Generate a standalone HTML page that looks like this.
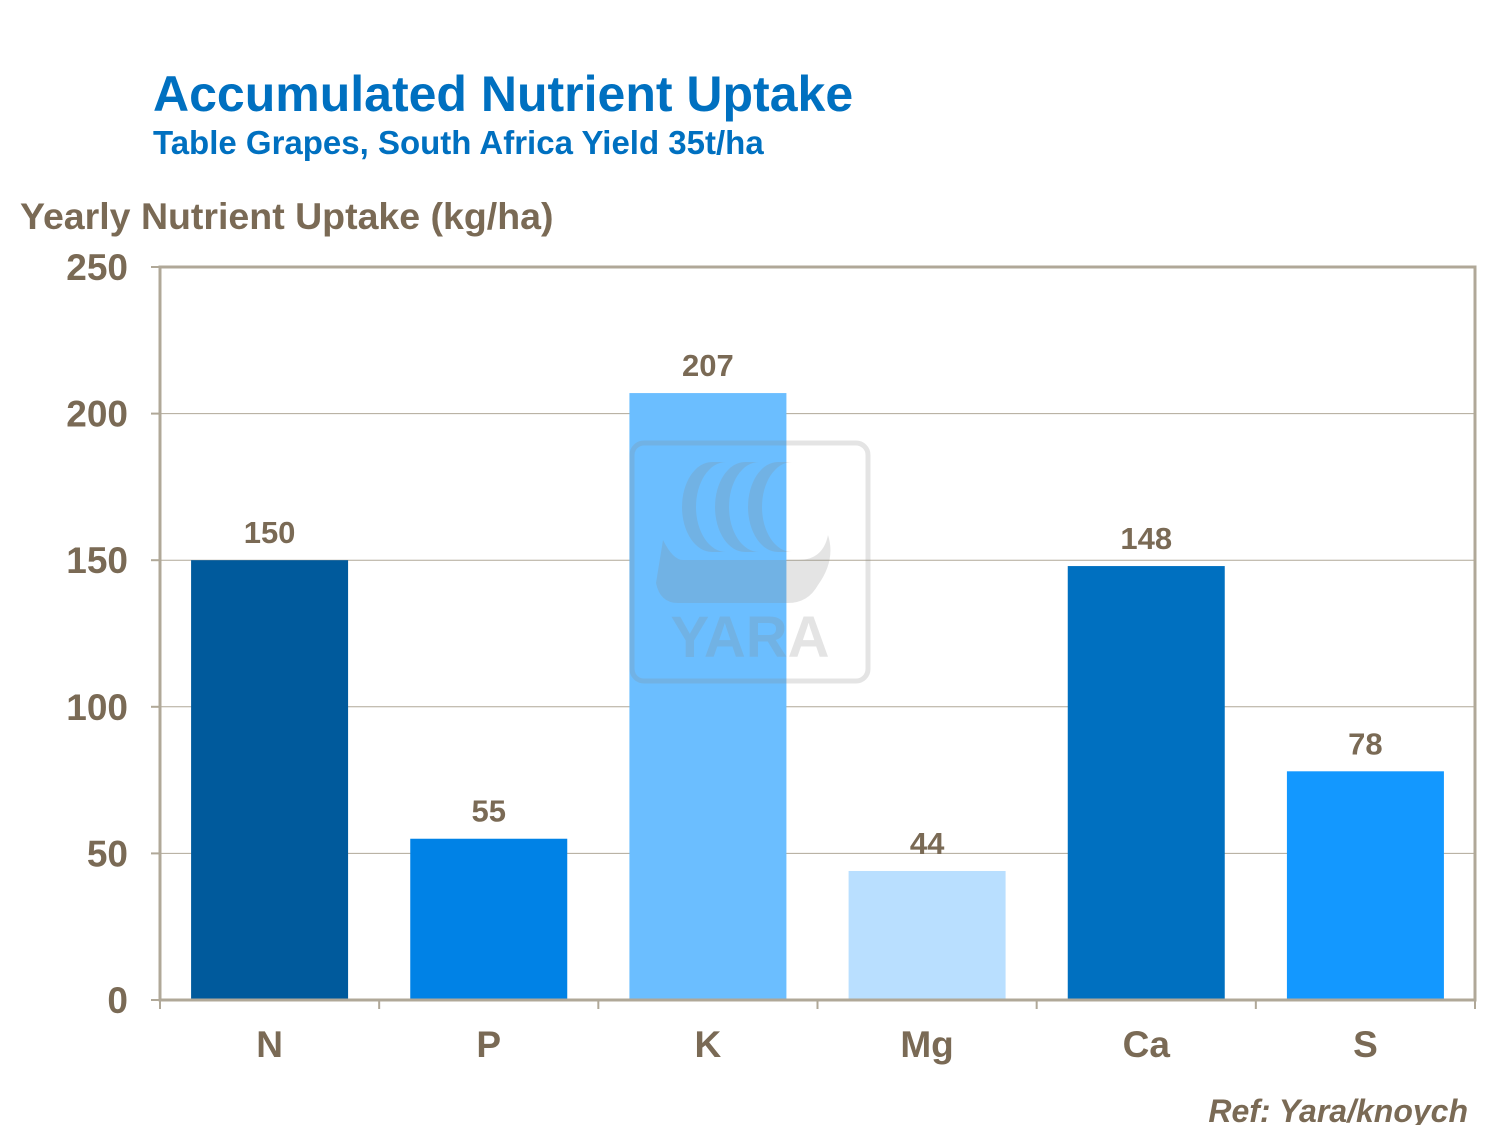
<!DOCTYPE html>
<html><head><meta charset="utf-8"><style>
body{margin:0;background:#fff;width:1500px;height:1125px;overflow:hidden;font-family:"Liberation Sans",Arial,sans-serif}
</style></head><body>
<svg width="1500" height="1125" xmlns="http://www.w3.org/2000/svg">
<text x="153" y="111" font-size="50" font-weight="bold" fill="#0070C0">Accumulated Nutrient Uptake</text>
<text x="153" y="154" font-size="33" font-weight="bold" fill="#0070C0">Table Grapes, South Africa Yield 35t/ha</text>
<text x="20" y="229" font-size="37.5" font-weight="bold" fill="#7A6A55">Yearly Nutrient Uptake (kg/ha)</text>
<g id="grid"></g>
<g id="bars"></g>
<g opacity="0.22" fill="#8a8a8a">
<rect x="632" y="443" width="236" height="238" rx="12" fill="none" stroke="#8a8a8a" stroke-width="5"/>
<path d="M712 462 a30 45 0 0 0 0 90 h14 a30 45 0 0 1 0 -90z"/>
<path d="M745 462 a30 45 0 0 0 0 90 h14 a30 45 0 0 1 0 -90z"/>
<path d="M778 462 a30 45 0 0 0 0 90 h14 a30 45 0 0 1 0 -90z"/>
<path d="M663 540 q10 20 20 20 h115 q25 0 30 -25 q8 25 -10 50 q-10 18 -30 18 h-110 q-18 0 -22 -20z"/>
<text x="750" y="657" font-size="58" font-weight="bold" text-anchor="middle">YARA</text>
</g>
<rect x="160" y="267" width="1315" height="733" fill="none" stroke="#B0A898" stroke-width="3"/>
<g id="axes"></g>
<text x="1468" y="1122" font-size="32" font-weight="bold" font-style="italic" fill="#7A6A55" text-anchor="end">Ref: Yara/knoych</text>
</svg>
<script>
const categories=["N","P","K","Mg","Ca","S"];
const values=[150,55,207,44,148,78];
const colors=["#005A9C","#0082E6","#6BBEFF","#B9DFFF","#0070C0","#1398FF"];
const yTicks=[0,50,100,150,200,250];
const NS="http://www.w3.org/2000/svg";
const L=160,R=1475,T=267,B=1000,yMax=250;
const y=v=>B-(v/yMax)*(B-T);
const bw=(R-L)/categories.length;
const x=i=>L+bw*i;
function mk(t,a,p){const e=document.createElementNS(NS,t);for(const k in a)e.setAttribute(k,a[k]);p.appendChild(e);return e;}
const grid=document.getElementById('grid'),bars=document.getElementById('bars'),axes=document.getElementById('axes');
yTicks.forEach(v=>{
 if(v>0&&v<yMax){const g=mk('line',{x1:L,x2:R,y1:y(v),y2:y(v),stroke:'#B0A898','stroke-width':1},grid);
 
 }
 const tk=mk('line',{x1:L-9,x2:L,y1:y(v),y2:y(v),stroke:'#B0A898','stroke-width':2},axes);
 
 
 const t=mk('text',{x:128,y:y(v)+13,'font-size':37,'font-weight':'bold',fill:'#7A6A55','text-anchor':'end'},axes);
 t.textContent=v;
 
 
});
for(let i=0;i<=categories.length;i++){
 const tk=mk('line',{x1:x(i),x2:x(i),y1:B,y2:B+9,stroke:'#B0A898','stroke-width':2},axes);
 
 
}
categories.forEach((c,i)=>{
 const cx=x(i)+bw/2,w=157;
 const r=mk('rect',{x:cx-w/2,y:y(values[i]),width:w,height:B-y(values[i]),fill:colors[i]},bars);
 
 
 const t=mk('text',{x:cx,y:y(values[i])-17,'font-size':31,'font-weight':'bold',fill:'#7A6A55','text-anchor':'middle'},bars);
 t.textContent=values[i];
 
 
 const l=mk('text',{x:cx,y:1057,'font-size':37,'font-weight':'bold',fill:'#7A6A55','text-anchor':'middle'},axes);
 l.textContent=c;
 
 
});
</script>
</body></html>
